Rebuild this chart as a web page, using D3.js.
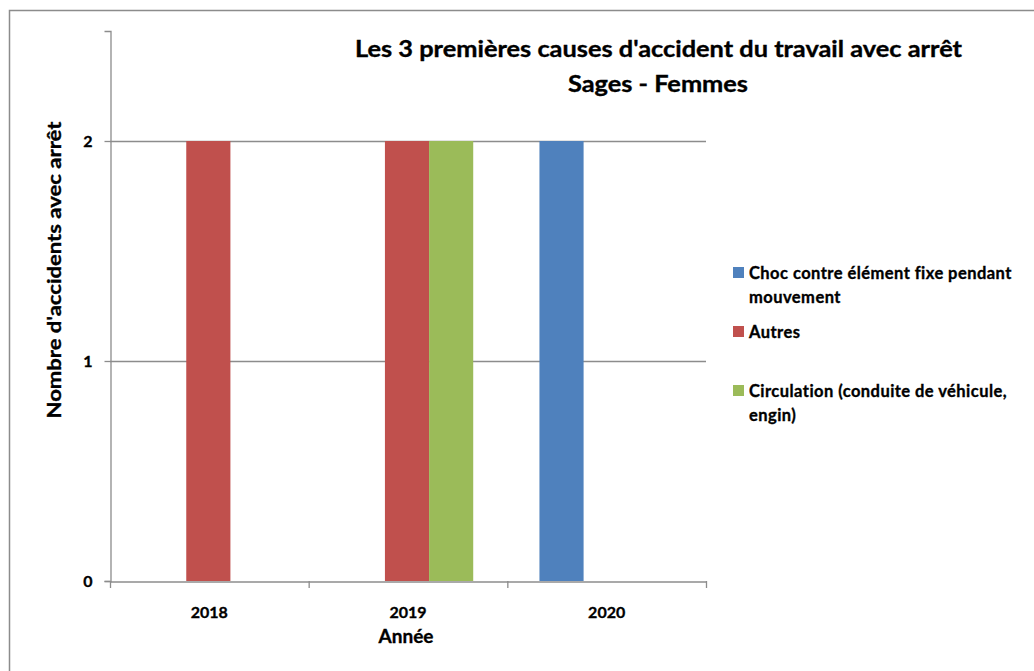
<!DOCTYPE html>
<html><head><meta charset="utf-8">
<script src="https://cdn.jsdelivr.net/npm/d3@7"></script>
<style>body{margin:0;background:#fff}svg{display:block}text{font-family:Lato,"Open Sans",sans-serif;font-weight:bold;fill:#000;stroke:#000;stroke-width:0.35px}</style>
</head><body>
<svg id="c" width="1034" height="671"></svg>
<script>
const years = ["2018", "2019", "2020"];
const seriesNames = ["Choc contre élément fixe pendant mouvement", "Autres", "Circulation (conduite de véhicule, engin)"];
const chocValues = [0, 0, 2];
const autresValues = [2, 2, 0];
const circulationValues = [0, 2, 0];
const seriesColors = ["#4F81BD", "#C0504D", "#9BBB59"];
const legendLines = [["Choc contre élément fixe pendant", "mouvement"], ["Autres"], ["Circulation (conduite de véhicule,", "engin)"]];
const yTicks = [0, 1, 2];
const titleLines = ["Les 3 premières causes d'accident du travail avec arrêt", "Sages - Femmes"];

(function () {
const svg = d3.select("#c");
const allValues = [chocValues, autresValues, circulationValues];
const gray = "#8c8c8c";

// outer border
svg.append("rect").attr("x", 9.5).attr("y", 10.5).attr("width", 1100).attr("height", 800)
  .attr("fill", "none").attr("stroke", gray).attr("stroke-width", 1.5);

const pL = 110, pR = 706, pT = 31, pB = 581;
const x0 = d3.scaleBand().domain(years).range([pL, pR]).padding(0);
const x1 = d3.scaleBand().domain(seriesNames).range([0, x0.bandwidth()]).paddingInner(0).paddingOuter(0.75);
const y = d3.scaleLinear().domain([0, 2.5]).range([pB, pT]);

// gridlines
svg.append("g").selectAll("line").data(yTicks.filter(d => d > 0)).join("line")
  .attr("x1", pL).attr("x2", pR).attr("y1", d => y(d) + 0.5).attr("y2", d => y(d) + 0.5)
  .attr("stroke", gray).attr("stroke-width", 1.3);

// bars
const barData = [];
years.forEach((yr, i) => seriesNames.forEach((s, j) => barData.push({yr, s, v: allValues[j][i], c: seriesColors[j]})));
svg.append("g").selectAll("rect").data(barData.filter(d => d.v > 0)).join("rect")
  .attr("x", d => x0(d.yr) + x1(d.s) - 1).attr("width", x1.bandwidth())
  .attr("y", d => y(d.v)).attr("height", d => y(0) - y(d.v)).attr("fill", d => d.c);

const styleTick = sel => sel.style("font-size", "16px").style("font-family", "Lato,sans-serif")
  .style("font-weight", "bold").attr("fill", "#000").style("stroke", "#000").style("stroke-width", "0.35px");

// y axis
const yAxis = svg.append("g").attr("transform", `translate(${pL + 0.5},0)`)
  .call(d3.axisLeft(y).tickValues(yTicks).tickFormat(d3.format("d")).tickSize(6).tickPadding(12));
yAxis.select(".domain").attr("stroke", gray).attr("stroke-width", 1.3);
yAxis.selectAll(".tick line").attr("stroke", gray).attr("stroke-width", 1.3);
styleTick(yAxis.selectAll(".tick text"));

// x axis
const xAxis = svg.append("g").attr("transform", `translate(0,${pB + 0.5})`)
  .call(d3.axisBottom(x0).tickSize(0).tickPadding(25));
xAxis.select(".domain").attr("stroke", gray).attr("stroke-width", 1.3);
styleTick(xAxis.selectAll(".tick text"));
// category boundary ticks
const bounds = years.map(d => x0(d)).concat([pR]);
svg.append("g").selectAll("line").data(bounds).join("line")
  .attr("x1", d => d + 0.5).attr("x2", d => d + 0.5).attr("y1", pB).attr("y2", pB + 7)
  .attr("stroke", gray).attr("stroke-width", 1.3);

// axis titles
svg.append("text").attr("x", (pL + pR) / 2 - 2).attr("y", 643).attr("text-anchor", "middle")
  .style("font-size", "19px").text("Année");
svg.append("text").attr("transform", "translate(61,270) rotate(-90)").attr("text-anchor", "middle")
  .style("font-size", "19px").attr("textLength", 297).attr("lengthAdjust", "spacingAndGlyphs")
  .text("Nombre d'accidents avec arrêt");

// title
svg.append("text").attr("x", 658.5).attr("y", 57).attr("text-anchor", "middle")
  .style("font-size", "22px").attr("textLength", 607).attr("lengthAdjust", "spacingAndGlyphs").text(titleLines[0]);
svg.append("text").attr("x", 658).attr("y", 92).attr("text-anchor", "middle")
  .style("font-size", "22px").attr("textLength", 180).attr("lengthAdjust", "spacingAndGlyphs").text(titleLines[1]);

// legend
const legendTops = [267, 326, 385];
const lg = svg.append("g");
seriesNames.forEach((s, i) => {
  lg.append("rect").attr("x", 733).attr("y", legendTops[i]).attr("width", 11).attr("height", 11).attr("fill", seriesColors[i]);
  legendLines[i].forEach((ln, k) => {
    lg.append("text").attr("x", 749).attr("y", legendTops[i] + 12 + k * 24)
      .style("font-size", "16.5px").style("letter-spacing", "0.45px").text(ln);
  });
});
})();
</script>
</body></html>
